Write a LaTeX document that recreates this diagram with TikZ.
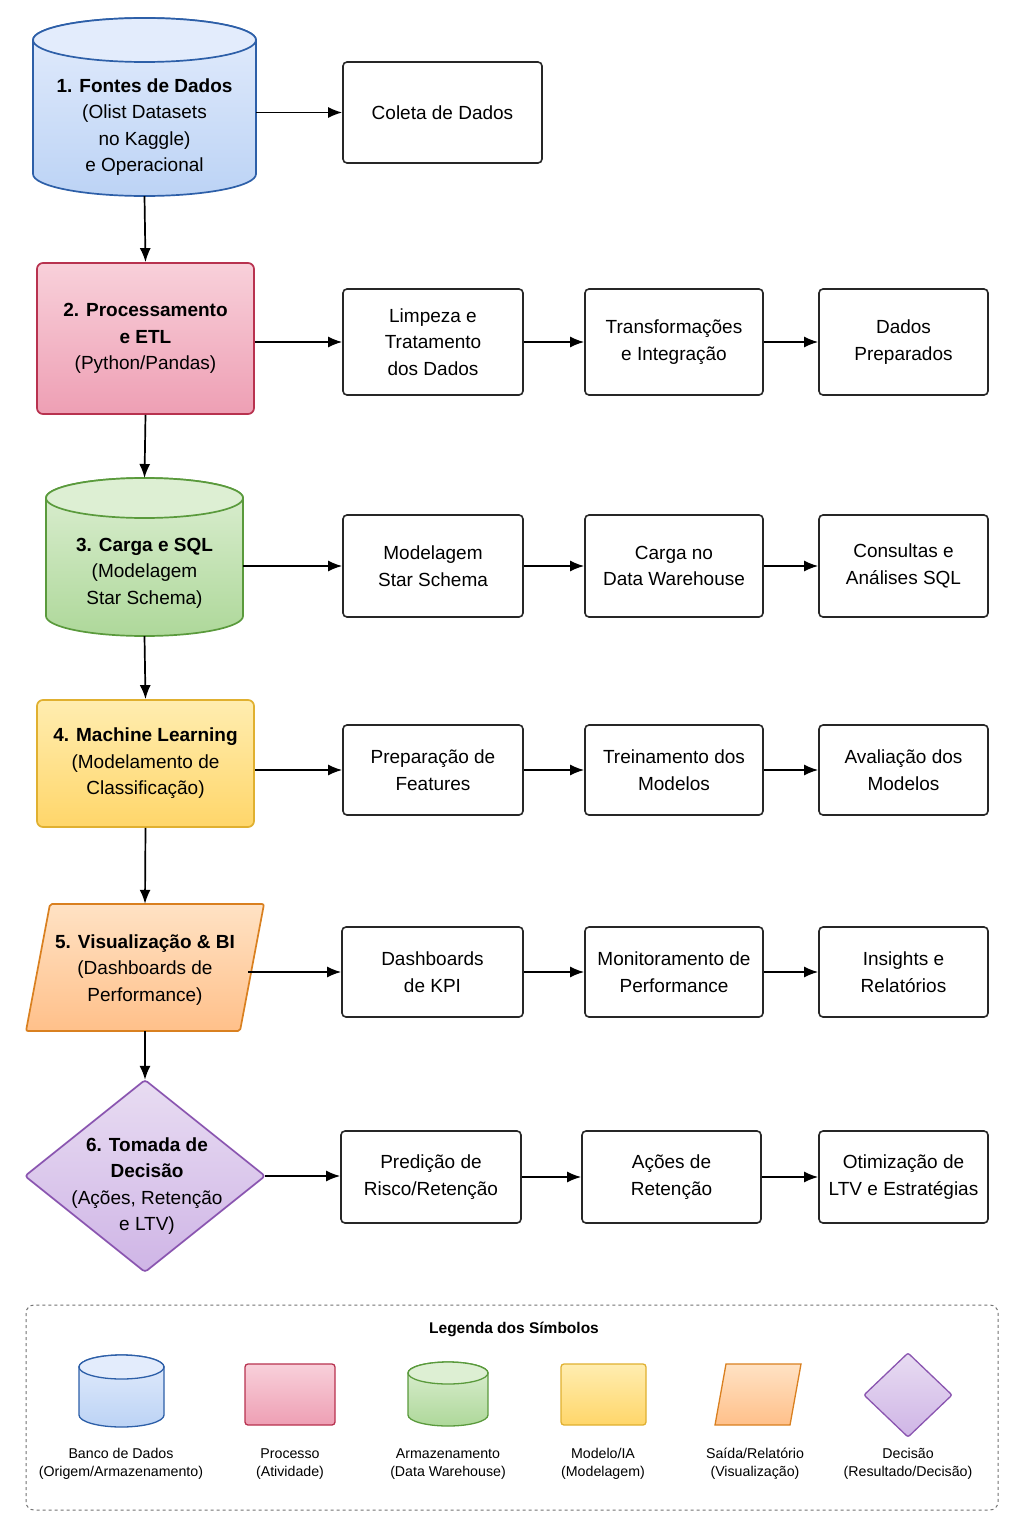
\documentclass[tikz,border=0pt]{standalone}
\usepackage{fontspec}
\setmainfont{Liberation Sans}
\usetikzlibrary{arrows.meta,shapes.geometric}
\definecolor{bS}{HTML}{2D5FA8}\definecolor{bT}{HTML}{E3ECFC}\definecolor{bB}{HTML}{BCD3F5}
\definecolor{pS}{HTML}{B8324F}\definecolor{pT}{HTML}{F8D0DA}\definecolor{pB}{HTML}{EE9FB4}
\definecolor{gS}{HTML}{5A9A3C}\definecolor{gT}{HTML}{DDEFD3}\definecolor{gB}{HTML}{AED89A}
\definecolor{yS}{HTML}{E0B030}\definecolor{yT}{HTML}{FFEDB0}\definecolor{yB}{HTML}{FFD66A}
\definecolor{oS}{HTML}{D98020}\definecolor{oT}{HTML}{FFE2C4}\definecolor{oB}{HTML}{FFC08A}
\definecolor{vS}{HTML}{8A55B0}\definecolor{vT}{HTML}{E8DCF2}\definecolor{vB}{HTML}{CFB5E6}
\begin{document}
\begin{tikzpicture}[x=1pt,y=-1pt,
  txt/.style={font=\fontsize{19}{26.5}\selectfont,align=center},
  box/.style={draw=black!85,line width=1.6pt,rounded corners=4pt,fill=white,txt},
  arr/.style={line width=1.7pt,-{Latex[length=14pt,width=11pt]}},
  main/.style={line width=1.7pt},
  leg/.style={font=\fontsize{14.2}{18.5}\selectfont,align=center}]
\path[fill=white] (0,0) rectangle (1024,1536);
% Row 1 cylinder
\path[main,draw=bS,top color=bT,bottom color=bB] (33,40) -- (33,174) arc (180:0:111.5 and 22) -- (256,40) arc (0:-180:111.5 and 22) -- cycle;
\draw[main,draw=bS,fill=bT] (144.5,40) ellipse (111.5 and 22);
\node[txt,minimum width=223pt,minimum height=178pt] (n1) at (144.5,107) {};
\node[txt] at (144.5,127) {\textbf{1. Fontes de Dados}\\(Olist Datasets\\no Kaggle)\\e Operacional};
\node[box,minimum width=199pt,minimum height=101pt] (c1) at (442.5,112.5) {Coleta de Dados};
% Row 2
\node[main,draw=pS,rounded corners=6pt,top color=pT,bottom color=pB,txt,minimum width=217pt,minimum height=151pt] (n2) at (145.5,338.5) {\textbf{2. Processamento}\\\textbf{e ETL}\\(Python/Pandas)};
\node[box,minimum width=180pt,minimum height=106pt] (b21) at (433,342) {Limpeza e\\Tratamento\\dos Dados};
\node[box,minimum width=178pt,minimum height=106pt] (b22) at (674,342) {Transformações\\e Integração};
\node[box,minimum width=169pt,minimum height=106pt] (b23) at (903.5,342) {Dados\\Preparados};
% Row 3 cylinder
\path[main,draw=gS,top color=gT,bottom color=gB] (46,498) -- (46,616) arc (180:0:98.5 and 20) -- (243,498) arc (0:-180:98.5 and 20) -- cycle;
\draw[main,draw=gS,fill=gT] (144.5,498) ellipse (98.5 and 20);
\node[minimum width=197pt,minimum height=158pt] (n3) at (144.5,557) {};
\node[txt] at (144.5,573) {\textbf{3. Carga e SQL}\\(Modelagem\\Star Schema)};
\node[box,minimum width=180pt,minimum height=102pt] (b31) at (433,566) {Modelagem\\Star Schema};
\node[box,minimum width=178pt,minimum height=102pt] (b32) at (674,566) {Carga no\\Data Warehouse};
\node[box,minimum width=169pt,minimum height=102pt] (b33) at (903.5,566) {Consultas e\\Análises SQL};
% Row 4
\node[main,draw=yS,rounded corners=6pt,top color=yT,bottom color=yB,txt,minimum width=217pt,minimum height=127pt] (n4) at (145.5,763.5) {\textbf{4. Machine Learning}\\(Modelamento de\\Classificação)};
\node[box,minimum width=180pt,minimum height=90pt] (b41) at (433,770) {Preparação de\\Features};
\node[box,minimum width=178pt,minimum height=90pt] (b42) at (674,770) {Treinamento dos\\Modelos};
\node[box,minimum width=169pt,minimum height=90pt] (b43) at (903.5,770) {Avaliação dos\\Modelos};
% Row 5 parallelogram
\path[main,draw=oS,top color=oT,bottom color=oB,rounded corners=2pt] (50,904) -- (264,904) -- (240,1031) -- (26,1031) -- cycle;
\node[minimum width=230pt,minimum height=127pt] (n5) at (145,967.5) {};
\node[txt] at (145,970) {\textbf{5. Visualização \& BI}\\(Dashboards de\\Performance)};
\node[box,minimum width=181pt,minimum height=90pt] (b51) at (432.5,972) {Dashboards\\de KPI};
\node[box,minimum width=178pt,minimum height=90pt] (b52) at (674,972) {Monitoramento de\\Performance};
\node[box,minimum width=169pt,minimum height=90pt] (b53) at (903.5,972) {Insights e\\Relatórios};
% Row 6 diamond
\path[main,draw=vS,top color=vT,bottom color=vB,rounded corners=3pt] (145,1080) -- (265,1176) -- (145,1272) -- (25,1176) -- cycle;
\node[diamond,minimum width=240pt,minimum height=192pt,inner sep=0pt] (n6) at (145,1176) {};
\node[txt] at (147,1186) {\textbf{6. Tomada de}\\\textbf{Decisão}\\(Ações, Retenção\\e LTV)};
\node[box,minimum width=180pt,minimum height=92pt] (b61) at (431,1177) {Predição de\\Risco/Retenção};
\node[box,minimum width=179pt,minimum height=92pt] (b62) at (671.5,1177) {Ações de\\Retenção};
\node[box,minimum width=169pt,minimum height=92pt] (b63) at (903.5,1177) {Otimização de\\LTV e Estratégias};
% arrows
\draw[arr] (n1.east|-c1) -- (c1);
\draw[arr] (n1.south) -- (n2.north);
\draw[arr] (n2.south) -- (n1.south|-478,478);
\draw[arr] (n3.south) -- (n4.north);
\draw[arr] (n4.south) -- (n5.north);
\draw[arr] (n5.south) -- (n6.north);
\draw[arr] (n2.east|-b21) -- (b21);
\draw[arr] (n3.east|-b31) -- (b31);
\draw[arr] (n4.east|-b41) -- (b41);
\draw[arr] (248,972) -- (b51);
\draw[arr] (n6.east) -- (b61.west|-n6);
\foreach \r in {2,3,4,5,6}{
  \draw[arr] (b\r1) -- (b\r2);
  \draw[arr] (b\r2) -- (b\r3);}
% legend
\draw[line width=1pt,draw=black!55,dashed,rounded corners=8pt] (26,1305) rectangle (998,1510);
\node[font=\fontsize{15.5}{18}\selectfont\bfseries] (lt) at (514,1329) {Legenda dos Símbolos};
\path[line width=1.3pt,draw=bS,top color=bT,bottom color=bB] (79,1367) -- (79,1415) arc (180:0:42.5 and 12) -- (164,1367) arc (0:-180:42.5 and 12) -- cycle;
\draw[line width=1.3pt,draw=bS,fill=bT] (121.5,1367) ellipse (42.5 and 12);
\path[line width=1.3pt,draw=pS,top color=pT,bottom color=pB,rounded corners=3pt] (245,1364) rectangle (335,1425);
\path[line width=1.3pt,draw=gS,top color=gT,bottom color=gB] (408,1373) -- (408,1415) arc (180:0:40 and 11) -- (488,1373) arc (0:-180:40 and 11) -- cycle;
\draw[line width=1.3pt,draw=gS,fill=gT] (448,1373) ellipse (40 and 11);
\path[line width=1.3pt,draw=yS,top color=yT,bottom color=yB,rounded corners=3pt] (561,1364) rectangle (646,1425);
\path[line width=1.3pt,draw=oS,top color=oT,bottom color=oB] (726,1364) -- (801,1364) -- (790,1425) -- (715,1425) -- cycle;
\path[line width=1.3pt,draw=vS,top color=vT,bottom color=vB,rounded corners=2pt] (908,1353) -- (952,1395) -- (908,1437) -- (864,1395) -- cycle;
\node[leg] (l1) at (121,1464) {Banco de Dados\\(Origem/Armazenamento)};
\node[leg] (l2) at (290,1464) {Processo\\(Atividade)};
\node[leg] (l3) at (448,1464) {Armazenamento\\(Data Warehouse)};
\node[leg] (l4) at (603,1464) {Modelo/IA\\(Modelagem)};
\node[leg] (l5) at (755,1464) {Saída/Relatório\\(Visualização)};
\node[leg] (l6) at (908,1464) {Decisão\\(Resultado/Decisão)};
\end{tikzpicture}
\end{document}
